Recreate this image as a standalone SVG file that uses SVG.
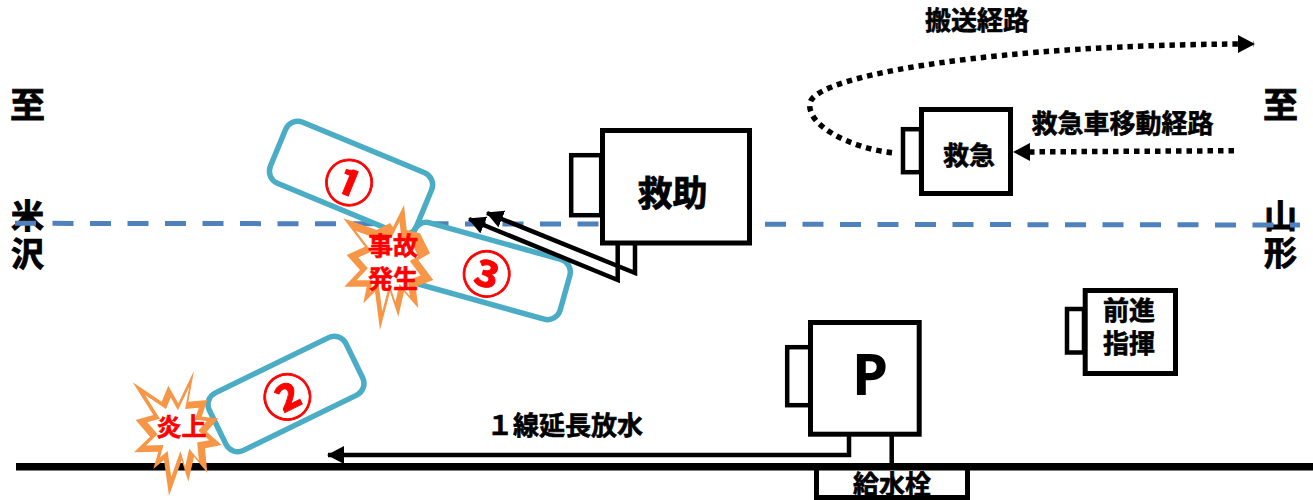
<svg xmlns="http://www.w3.org/2000/svg" width="1313" height="500" viewBox="0 0 1313 500">
<style>
text{font-family:"Noto Sans CJK JP","Noto Sans",sans-serif;font-weight:700;fill:#000;text-anchor:middle}
.s26{font-size:26px;stroke:#000;stroke-width:.6px}.s35{font-size:35px;stroke:#000;stroke-width:.8px}
.s34{font-size:33px;stroke:#000;stroke-width:.9px}
.red{font-size:25px;fill:#f00;stroke:#f00;stroke-width:.6px}
.num{font-size:50px;fill:#f00;stroke:#f00;stroke-width:.9px}
.box{fill:#fff;stroke:#000;stroke-width:5}
.side{fill:#fff;stroke:#000;stroke-width:4.5}
.car{fill:#fff;stroke:#4bacc6;stroke-width:5.5}
.ln{fill:none;stroke:#000;stroke-width:4.5}
.dot{fill:none;stroke:#000;stroke-width:5.5;stroke-dasharray:5.5 5}
.org{fill:#f79646}.wht{fill:#fff}
</style>
<defs>
<marker id="a" markerUnits="userSpaceOnUse" markerWidth="17" markerHeight="18" refX="16" refY="9" orient="auto"><path d="M0 0L17 9L0 18Z"/></marker>
</defs>
<g id="road"><line x1="16" y1="466.8" x2="1313" y2="466.8" stroke="#000" stroke-width="7.5"/></g>
<g id="hydrant"><rect class="box" x="816.5" y="468" width="151" height="29.5"/><text class="s26" x="892" y="494">給水栓</text></g>
<g id="labels-left"><text class="s35" x="27.5" y="118">至</text><text class="s34" x="27.5" y="228">米</text><text class="s34" x="27.5" y="266">沢</text></g>
<g id="labels-right"><text class="s35" x="1280.5" y="118">至</text><text class="s34" x="1280.5" y="228">山</text><text class="s34" x="1280.5" y="265">形</text></g>
<g id="centerline"><line x1="15" y1="223.3" x2="1300" y2="225" stroke="#4f81bd" stroke-width="5" stroke-dasharray="21 16.5"/></g>
<g id="car1"><rect class="car" x="272" y="145" width="158" height="66" rx="13" transform="rotate(22.5 351 178)"/><text class="num" x="349" y="201.5" transform="rotate(22.5 349 182.7)">①</text></g>
<g id="car3"><rect class="car" x="406" y="240" width="162" height="62" rx="13" transform="rotate(15.6 487 271)"/><text class="num" x="486.7" y="293" transform="rotate(15.6 486.7 274)">③</text></g>
<g id="car2"><rect class="car" x="210" y="362" width="152" height="64" rx="13" transform="rotate(-26 286 394)"/><text class="num" x="287.3" y="416" transform="rotate(-26 287.3 396.7)">②</text></g>
<g id="burst-accident">
<polygon class="org" points="404,205 406.7,230 420,233.3 430,253.3 418.3,260 433.3,280 415.7,286.7 418.3,308.3 404,291.7 398.3,316.7 390,291.7 380,330 375,291.7 363.3,303.3 366.7,286.7 344.3,286.7 360,270 346.7,255 365,246.7 343.3,218.3 376.7,230 390,223 393,227"/>
<polygon class="wht" transform="translate(388 264) scale(.72) translate(-388 -264)" points="404,205 406.7,230 420,233.3 430,253.3 418.3,260 433.3,280 415.7,286.7 418.3,308.3 404,291.7 398.3,316.7 390,291.7 380,330 375,291.7 363.3,303.3 366.7,286.7 344.3,286.7 360,270 346.7,255 365,246.7 343.3,218.3 376.7,230 390,223 393,227"/>
<text class="red" x="393" y="254.5">事故</text><text class="red" x="393" y="287.5">発生</text>
</g>
<g id="burst-fire">
<polygon class="org" points="194,370.7 188.3,401.7 207.3,400 201.7,416.7 218.3,418.3 206.7,431.7 221.7,445 205,448.3 207.3,472.7 194,456.7 188.3,481.7 181.7,460 169,496 164,460 153.3,469 158.3,451.7 134,452.3 150,436.7 135.7,420 153.3,415 132.7,382.3 161.7,401.7 168.3,385.7 178.3,403.3"/>
<polygon class="wht" transform="translate(177 428) scale(.72) translate(-177 -428)" points="194,370.7 188.3,401.7 207.3,400 201.7,416.7 218.3,418.3 206.7,431.7 221.7,445 205,448.3 207.3,472.7 194,456.7 188.3,481.7 181.7,460 169,496 164,460 153.3,469 158.3,451.7 134,452.3 150,436.7 135.7,420 153.3,415 132.7,382.3 161.7,401.7 168.3,385.7 178.3,403.3"/>
<text class="red" x="181.5" y="436">炎上</text>
</g>
<g id="rescue"><rect class="side" x="571.2" y="155.2" width="30" height="60"/><rect class="box" x="602.5" y="130.5" width="147" height="112.5"/><text class="s35" x="672.5" y="206">救助</text></g>
<g id="ambulance"><rect class="side" x="903" y="129.2" width="18" height="43"/><rect class="box" x="921.5" y="109.5" width="89" height="84"/><text class="s26" x="969" y="165">救急</text></g>
<g id="command"><rect class="side" x="1067" y="309" width="17" height="43.5"/><rect class="box" x="1085.2" y="290.5" width="90.3" height="83"/><text class="s26" x="1129" y="319.5">前進</text><text class="s26" x="1129" y="353">指揮</text></g>
<g id="pump"><rect class="side" x="787.2" y="347.2" width="23" height="58"/><rect class="box" x="810.5" y="322.5" width="108.7" height="111.7"/><text x="870" y="395" font-size="58" style="font-family:'Noto Sans',sans-serif">P</text></g>
<g id="connectors">
<polyline class="ln" points="635,243 635,273 487,213" marker-end="url(#a)"/>
<polyline class="ln" points="617.7,243 617.7,280 469,219" marker-end="url(#a)"/>
<polyline class="ln" points="849,436 849,455 328,455" marker-end="url(#a)"/>
<line class="ln" x1="891.7" y1="436" x2="891.7" y2="464"/>
<path class="dot" d="M892 152.7C850 148 806 125 810 103C815 75 1000 44 1254 44" marker-end="url(#a)"/>
<path class="dot" d="M1234 150.7L1014 152" marker-end="url(#a)"/>
</g>
<g id="route-labels">
<text class="s26" x="977" y="29.5">搬送経路</text>
<text class="s26" x="1122.5" y="133">救急車移動経路</text>
<text class="s26" x="565" y="435">１線延長放水</text>
</g>
</svg>
